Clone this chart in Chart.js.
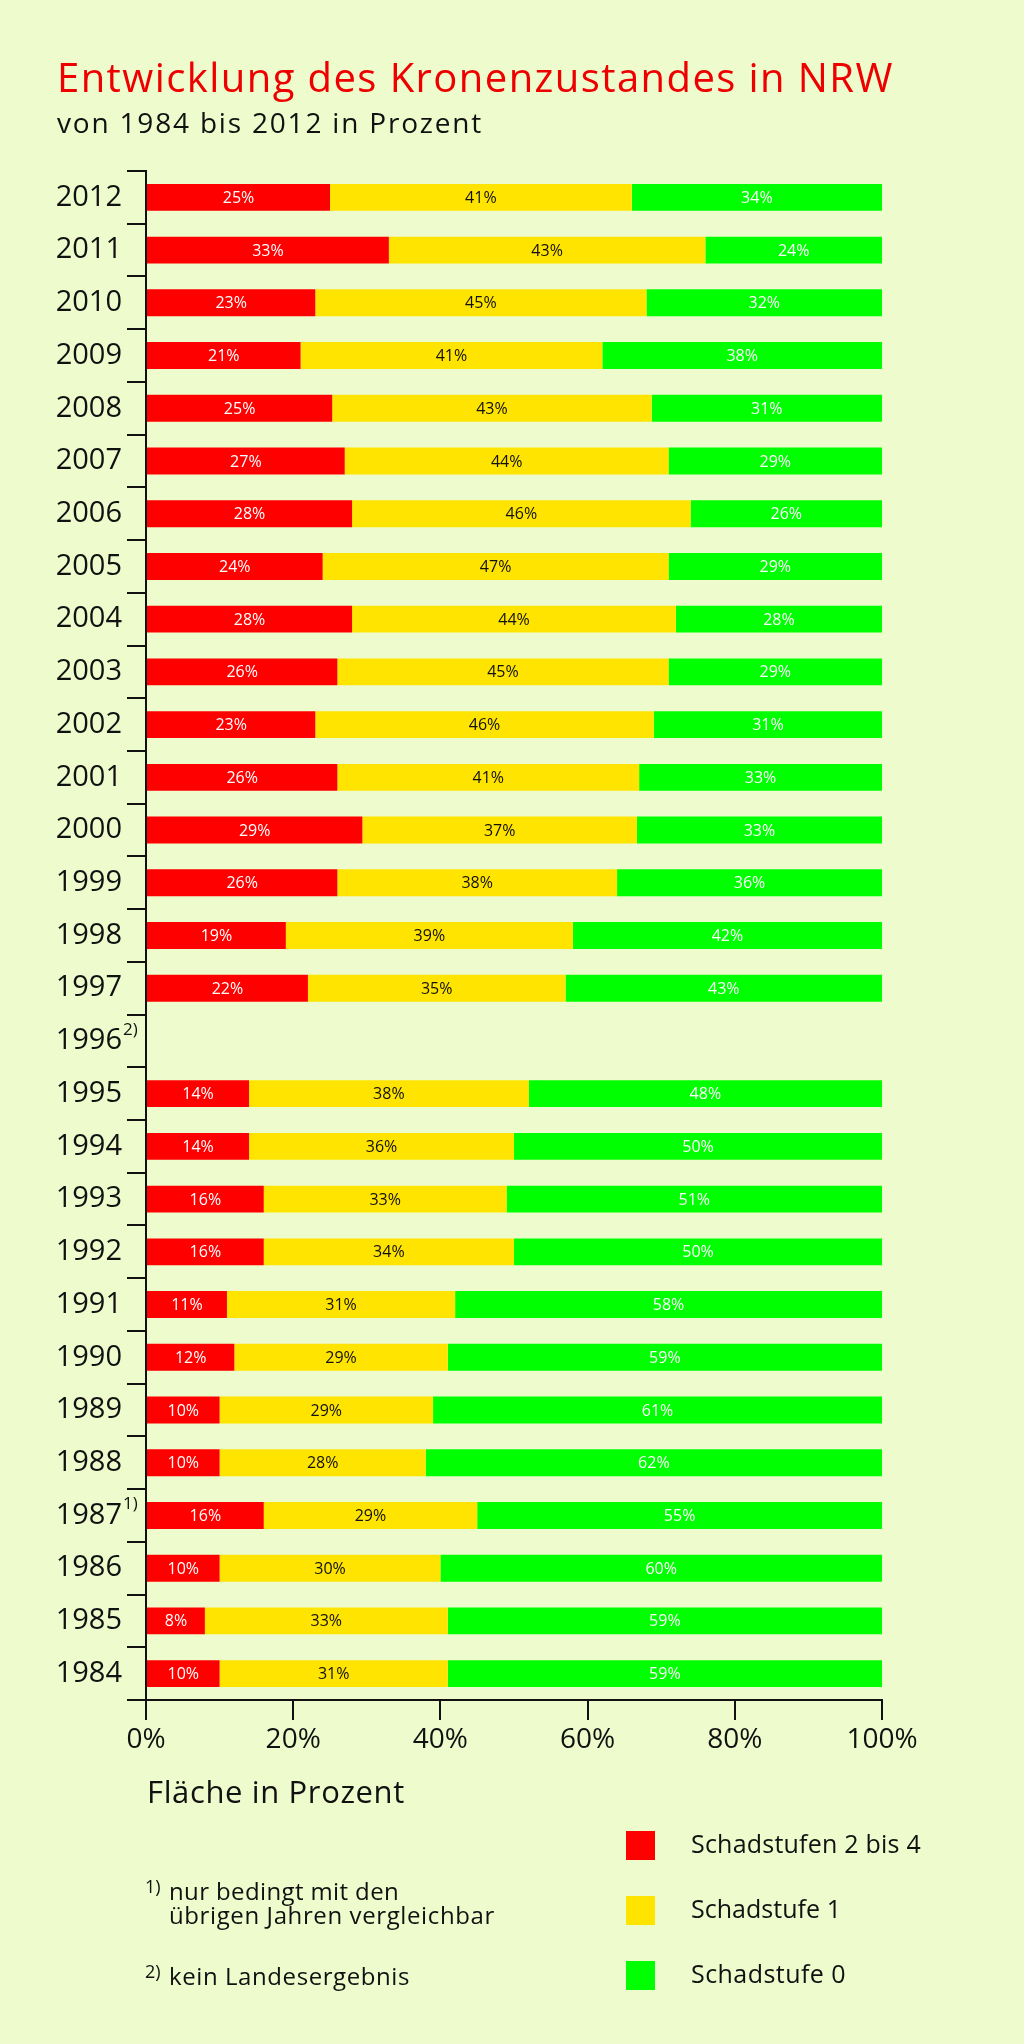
<!DOCTYPE html>
<html lang="de">
<head>
  <meta charset="UTF-8">
  <title>Entwicklung des Kronenzustandes in NRW</title>
  <script src="https://cdn.jsdelivr.net/npm/chart.js"></script>
  <style>
    html, body { margin: 0; padding: 0; }
    body { width: 1024px; height: 2044px; background: #eefbcc; position: relative; overflow: hidden;
           font-family: "Open Sans", Roboto, sans-serif; color: #111; }
    .txt { position: absolute; white-space: nowrap; line-height: 1; }
    #title { left: 57px; top: 57px; font-size: 40px; color: #ee0000; }
    #subtitle { left: 57px; top: 108px; font-size: 28px; }
    #xtitle { left: 147px; top: 1776px; font-size: 31px; }
    .sup { font-size: 18px; }
    .note { font-size: 24px; }
    .box { position: absolute; width: 29px; height: 29px; }
    #wrap { position: absolute; left: 0; top: 0; width: 1024px; height: 2044px; }
  </style>
</head>
<body>
  <div id="wrap"><canvas id="chart"></canvas></div>
  <div class="txt" id="title" data-w="837">Entwicklung des Kronenzustandes in NRW</div>
  <div class="txt" id="subtitle" data-w="426">von 1984 bis 2012 in Prozent</div>
  <div class="txt" id="xtitle" data-w="258">Fläche in Prozent</div>
  <div class="txt sup" style="left:145px; top:1877px;">1)</div>
  <div class="txt note" style="left:169px; top:1879px;" data-w="230">nur bedingt mit den</div>
  <div class="txt note" style="left:169px; top:1903px;" data-w="326">übrigen Jahren vergleichbar</div>
  <div class="txt sup" style="left:145px; top:1962px;">2)</div>
  <div class="txt note" style="left:169px; top:1964px;" data-w="241">kein Landesergebnis</div>
  <div id="legend"></div>

  <script>
    // years from top to bottom, 1996 has no state result
    const years = ['2012', '2011', '2010', '2009', '2008', '2007', '2006', '2005', '2004', '2003',
                   '2002', '2001', '2000', '1999', '1998', '1997', '1996', '1995', '1994', '1993',
                   '1992', '1991', '1990', '1989', '1988', '1987', '1986', '1985', '1984'];
    const footnoteMarks = { '1996': '2)', '1987': '1)' };

    const stufe24 = [25, 33, 23, 21, 25.3, 27, 28, 24, 28, 26, 23, 26, 29.4, 26, 19, 22, null,
                     14, 14, 16, 16, 11, 12, 10, 10, 16, 10, 8, 10];
    const stufe1  = [41, 43, 45, 41, 43.4, 44, 46, 47, 44, 45, 46, 41, 37.3, 38, 39, 35, null,
                     38, 36, 33, 34, 31, 29, 29, 28, 29, 30, 33, 31];
    const stufe0  = [34, 24, 32, 38, 31.3, 29, 26, 29, 28, 29, 31, 33, 33.3, 36, 42, 43, null,
                     48, 50, 51, 50, 58, 59, 61, 62, 55, 60, 59, 59];

    const seriesNames = ['Schadstufen 2 bis 4', 'Schadstufe 1', 'Schadstufe 0'];
    const seriesColors = ['#ff0000', '#ffe400', '#00ff00'];
    const labelColors = ['#ffffff', '#111111', '#ffffff'];
    const legendWidths = [230, 150, 155];
    const xTicks = [0, 20, 40, 60, 80, 100];

    const fontFamily = '"Open Sans", Roboto, sans-serif';

    // percent labels in the middle of each segment
    const segmentLabels = {
      id: 'segmentLabels',
      afterDatasetsDraw(chart) {
        const ctx = chart.ctx;
        ctx.save();
        ctx.font = '16px ' + fontFamily;
        ctx.textAlign = 'center';
        ctx.textBaseline = 'middle';
        chart.data.datasets.forEach((ds, i) => {
          const meta = chart.getDatasetMeta(i);
          meta.data.forEach((bar, j) => {
            const v = ds.data[j];
            if (v == null) return;
            const p = bar.getCenterPoint();
            ctx.fillStyle = labelColors[i];
            ctx.fillText(Math.round(v) + '%', p.x, p.y + 1);
          });
        });
        ctx.restore();
      }
    };

    // small footnote marks after some year labels
    const yearMarks = {
      id: 'yearMarks',
      afterDraw(chart) {
        const y = chart.scales.y;
        const ctx = chart.ctx;
        ctx.save();
        ctx.font = '17px ' + fontFamily;
        ctx.fillStyle = '#111';
        ctx.textAlign = 'left';
        ctx.textBaseline = 'middle';
        years.forEach((yr, i) => {
          if (!footnoteMarks[yr]) return;
          ctx.fillText(footnoteMarks[yr], y.right - 23, y.getPixelForValue(i) - 11);
        });
        ctx.restore();
      }
    };

    const ctx = document.getElementById('chart').getContext('2d');
    new Chart(ctx, {
      type: 'bar',
      data: {
        labels: years,
        datasets: seriesNames.map((name, i) => ({
          label: name,
          data: [stufe24, stufe1, stufe0][i],
          backgroundColor: seriesColors[i],
          borderWidth: 0,
          barPercentage: 0.51,
          categoryPercentage: 1
        }))
      },
      options: {
        indexAxis: 'y',
        responsive: true,
        maintainAspectRatio: false,
        animation: false,
        layout: { padding: { top: 171, left: 0, right: 142, bottom: 274 } },
        plugins: { legend: { display: false }, tooltip: { enabled: false } },
        scales: {
          x: {
            stacked: true,
            min: 0,
            max: 100,
            afterBuildTicks(scale) { scale.ticks = xTicks.map(v => ({ value: v })); },
            afterFit(scale) { scale.height = 70; },
            grid: { drawOnChartArea: false, tickLength: 20, color: '#111', lineWidth: 2 },
            border: { color: '#111', width: 2 },
            ticks: {
              callback: v => v + '%',
              color: '#111',
              padding: 3,
              font: { family: fontFamily, size: 28 }
            }
          },
          y: {
            stacked: true,
            afterFit(scale) { scale.width = 146; },
            grid: { offset: true, drawOnChartArea: false, tickLength: 19, color: '#111', lineWidth: 2 },
            border: { color: '#111', width: 2 },
            ticks: {
              color: '#111',
              padding: 5,
              font: { family: fontFamily, size: 29 }
            }
          }
        }
      },
      plugins: [segmentLabels, yearMarks]
    });

    // legend on the lower right
    const legend = document.getElementById('legend');
    seriesNames.forEach((name, i) => {
      const top = 1831 + i * 65;
      const box = document.createElement('div');
      box.className = 'box';
      box.style.left = '626px';
      box.style.top = top + 'px';
      box.style.background = seriesColors[i];
      legend.appendChild(box);
      const t = document.createElement('div');
      t.className = 'txt';
      t.style.left = '691px';
      t.style.top = top + 'px';
      t.style.fontSize = '25px';
      t.dataset.w = legendWidths[i];
      t.textContent = name;
      legend.appendChild(t);
    });

    // stretch the texts a little so they take the same width as in the original
    document.querySelectorAll('[data-w]').forEach(el => {
      const target = +el.dataset.w;
      const w = el.getBoundingClientRect().width;
      const n = el.textContent.length;
      el.style.letterSpacing = ((target - w) / n).toFixed(2) + 'px';
    });
  </script>
</body>
</html>
